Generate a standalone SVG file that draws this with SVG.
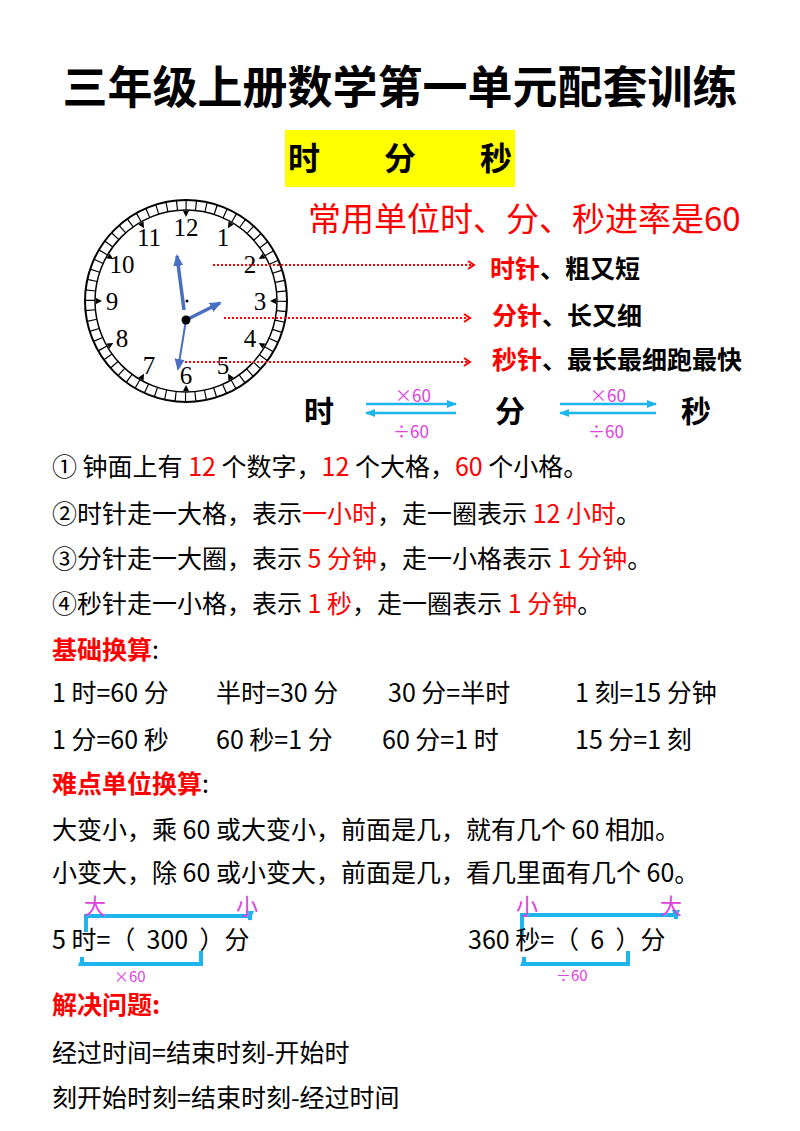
<svg xmlns="http://www.w3.org/2000/svg" xmlns:xlink="http://www.w3.org/1999/xlink" width="800" height="1131" viewBox="0 0 800 1131">
<style>
text{font-family:"Noto Sans CJK SC","Liberation Sans",sans-serif;}
.b{font-weight:bold}
.t{font-size:25px;fill:#000}
.r{fill:#ff0000}
.m{fill:#e040e0;font-family:"Liberation Sans",sans-serif}
.num{font-family:"Liberation Serif",serif;font-size:25px;text-anchor:middle;dominant-baseline:central}
.dot{stroke:#ff0000;stroke-width:2;stroke-dasharray:2 2;fill:none}
.cy{stroke:#1eb4ec;stroke-width:2.5;fill:none}
.br{stroke:#1eb4ec;stroke-width:4;fill:none}
.hand{stroke:#4a6fc0;fill:none}
</style>
<defs>
<marker id="ra" markerWidth="10" markerHeight="10" refX="8" refY="5" orient="auto" markerUnits="userSpaceOnUse"><path d="M2,1 L8,5 L2,9" stroke="#ff0000" stroke-width="2" fill="none"/></marker>
<marker id="ca" markerWidth="10" markerHeight="10" refX="9" refY="5" orient="auto" markerUnits="userSpaceOnUse"><path d="M0,1 L10,5 L0,9 Z" fill="#1eb4ec"/></marker>
<marker id="ha" markerWidth="12" markerHeight="12" refX="10" refY="6" orient="auto" markerUnits="userSpaceOnUse"><path d="M0,1 L12,6 L0,11 Z" fill="#4a6fc0"/></marker>
<path id="tri" d="M-3,-90 L3,-90 L0,-84 Z" fill="#000"/>
</defs>
<text x="400" y="104" text-anchor="middle" class="b" font-size="45">三年级上册数学第一单元配套训练</text>
<g id="header"><rect x="285" y="130" width="230" height="57" fill="#ffff00"/>
<text x="400" y="170" text-anchor="middle" class="b" font-size="32" xml:space="preserve">时　　分　　秒</text></g>
<text x="308" y="231" class="r" font-size="33">常用单位时、分、秒进率是60</text>
<g id="clock">
<circle cx="186" cy="301" r="101" fill="#fff" stroke="#000" stroke-width="2"/>
<circle cx="186" cy="301" r="91" fill="none" stroke="#000" stroke-width="1.5"/>
<circle cx="186" cy="301" r="96" fill="none" stroke="#000" stroke-width="10" stroke-dasharray="1.2 8.85" transform="rotate(-90.3 186 301)"/>
<g transform="translate(186 301)">
<use xlink:href="#tri"/><use xlink:href="#tri" transform="rotate(30)"/><use xlink:href="#tri" transform="rotate(60)"/><use xlink:href="#tri" transform="rotate(90)"/><use xlink:href="#tri" transform="rotate(120)"/><use xlink:href="#tri" transform="rotate(150)"/><use xlink:href="#tri" transform="rotate(180)"/><use xlink:href="#tri" transform="rotate(210)"/><use xlink:href="#tri" transform="rotate(240)"/><use xlink:href="#tri" transform="rotate(270)"/><use xlink:href="#tri" transform="rotate(300)"/><use xlink:href="#tri" transform="rotate(330)"/>
</g>
<text class="num" x="186" y="227">12</text><text class="num" x="223" y="237">1</text><text class="num" x="250" y="264">2</text><text class="num" x="260" y="301">3</text><text class="num" x="250" y="338">4</text><text class="num" x="223" y="365">5</text><text class="num" x="186" y="375">6</text><text class="num" x="149" y="365">7</text><text class="num" x="122" y="338">8</text><text class="num" x="112" y="301">9</text><text class="num" x="122" y="264">10</text><text class="num" x="149" y="237">11</text>
<line class="hand" x1="184" y1="310" x2="177" y2="256" stroke-width="3.5" marker-end="url(#ha)"/>
<line class="hand" x1="186" y1="320" x2="220" y2="303" stroke-width="3.5" marker-end="url(#ha)"/>
<line class="hand" x1="186" y1="320" x2="178" y2="369" stroke-width="2" marker-end="url(#ha)"/>
<circle cx="186" cy="320" r="4.5" fill="#000"/><circle cx="187" cy="301" r="1.5" fill="#000"/>
</g>
<g id="connectors">
<line class="dot" x1="213" y1="265" x2="474" y2="265" marker-end="url(#ra)"/>
<line class="dot" x1="224" y1="318" x2="470" y2="318" marker-end="url(#ra)"/>
<line class="dot" x1="185" y1="362" x2="470" y2="362" marker-end="url(#ra)"/>
<line class="cy" x1="366" y1="404" x2="456" y2="404" marker-end="url(#ca)"/>
<line class="cy" x1="456" y1="413" x2="366" y2="413" marker-end="url(#ca)"/>
<line class="cy" x1="560" y1="404" x2="656" y2="404" marker-end="url(#ca)"/>
<line class="cy" x1="656" y1="413" x2="560" y2="413" marker-end="url(#ca)"/>
<path class="br" d="M86,932 V916 H250 V920" marker-end="url(#ca)"/>
<path class="br" d="M201,951 V964 H82 V957" marker-end="url(#ca)"/>
<path class="br" d="M522,935 V915 H676 V919" marker-end="url(#ca)"/>
<path class="br" d="M628,951 V964 H524 V957" marker-end="url(#ca)"/>
</g>
<g class="b" font-size="25">
<text x="490" y="278"><tspan class="r">时针</tspan>、粗又短</text>
<text x="492" y="325"><tspan class="r">分针</tspan>、长又细</text>
<text x="492" y="369"><tspan class="r">秒针</tspan>、最长最细跑最快</text>
</g>
<g class="b" font-size="30"><text x="304" y="422">时</text><text x="495" y="422">分</text><text x="681" y="422">秒</text></g>
<g font-size="17" class="m"><text x="395" y="402">×60</text><text x="393" y="438">÷60</text><text x="590" y="402">×60</text><text x="588" y="438">÷60</text></g>
<g class="t">
<text x="52" y="476">① 钟面上有 <tspan class="r">12</tspan> 个数字，<tspan class="r">12</tspan> 个大格，<tspan class="r">60</tspan> 个小格。</text>
<text x="52" y="523">②时针走一大格，表示<tspan class="r">一小时</tspan>，走一圈表示 <tspan class="r">12 小时</tspan>。</text>
<text x="52" y="568">③分针走一大圈，表示 <tspan class="r">5 分钟</tspan>，走一小格表示 <tspan class="r">1 分钟</tspan>。</text>
<text x="52" y="613">④秒针走一小格，表示 <tspan class="r">1 秒</tspan>，走一圈表示 <tspan class="r">1 分钟</tspan>。</text>
<text x="52" y="659"><tspan class="r b">基础换算</tspan>:</text>
<text x="52" y="702">1 时=60 分</text><text x="216" y="702">半时=30 分</text><text x="388" y="702">30 分=半时</text><text x="575" y="702">1 刻=15 分钟</text>
<text x="52" y="749">1 分=60 秒</text><text x="216" y="749">60 秒=1 分</text><text x="382" y="749">60 分=1 时</text><text x="575" y="749">15 分=1 刻</text>
<text x="52" y="793"><tspan class="r b">难点单位换算</tspan>:</text>
<text x="52" y="839">大变小，乘 60 或大变小，前面是几，就有几个 60 相加。</text>
<text x="52" y="882">小变大，除 60 或小变大，前面是几，看几里面有几个 60。</text>
<text x="52" y="949" xml:space="preserve">5 时=（  300  ）分</text>
<text x="468" y="949" xml:space="preserve">360 秒=（  6  ）分</text>
<text x="52" y="1014" class="r b">解决问题:</text>
<text x="52" y="1062">经过时间=结束时刻-开始时</text>
<text x="52" y="1107">刻开始时刻=结束时刻-经过时间</text>
</g>
<g font-size="22" fill="#e040e0"><text x="84" y="914">大</text><text x="236" y="914">小</text><text x="516" y="914">小</text><text x="660" y="914">大</text></g>
<g font-size="15" class="m"><text x="114" y="982">×60</text><text x="556" y="981">÷60</text></g>
</svg>
